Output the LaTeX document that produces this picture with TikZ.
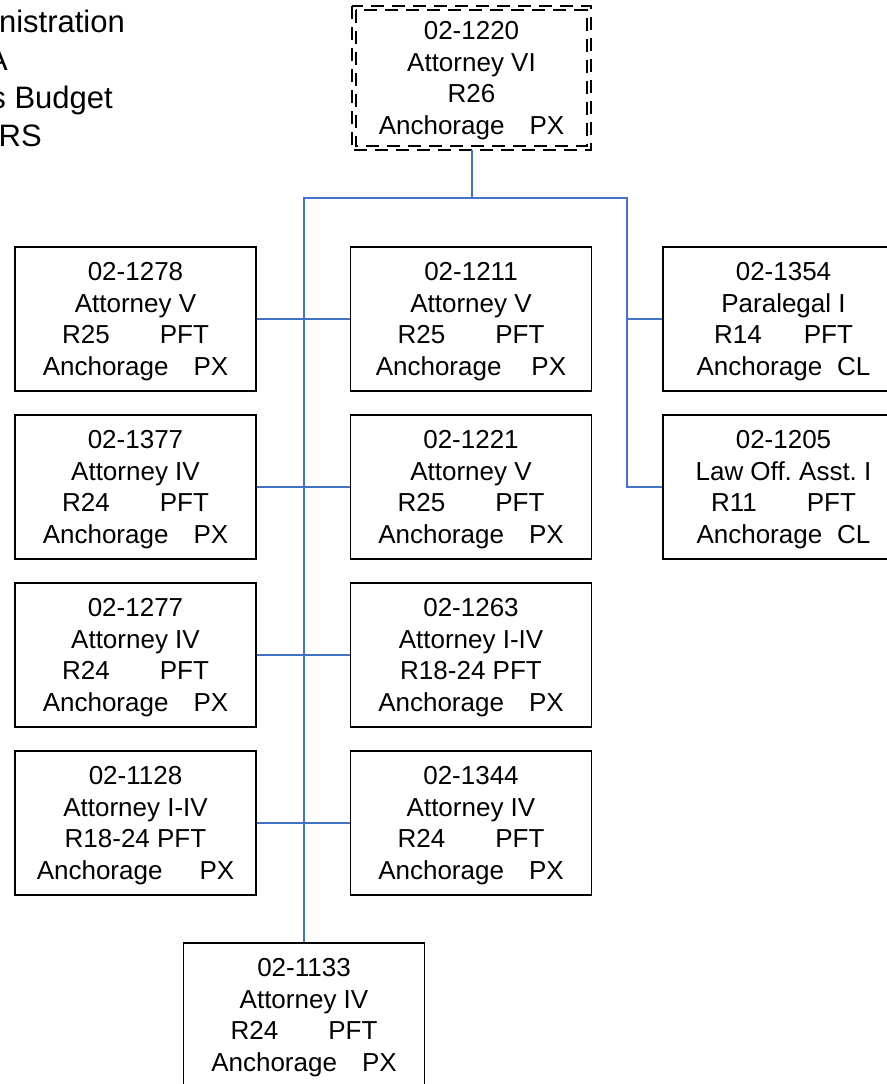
\documentclass[tikz,border=0pt]{standalone}
\usepackage{fontspec}
\setmainfont{Liberation Sans}
\frenchspacing
\definecolor{lineblue}{HTML}{4472C4}
\begin{document}
\begin{tikzpicture}[x=1pt,y=1pt,
  pbox/.style={draw=black, line width=1.8pt, minimum width=241pt, minimum height=144pt,
    align=center, inner sep=0pt, text depth=0pt, font=\fontsize{26}{31.7}\selectfont},
  topbox/.style={minimum width=231pt, minimum height=136pt,
    align=center, inner sep=0pt, text depth=0pt, font=\fontsize{26}{31.7}\selectfont},
  dashline/.style={draw=black, line width=1.5pt, dash pattern=on 13pt off 8pt},
  conn/.style={draw=lineblue, line width=2pt},
  hdr/.style={anchor=base east, inner sep=0pt, font=\fontsize{31}{38}\selectfont}]
\useasboundingbox (0,0) rectangle (886,-1084);

% header text (cut at the left edge)
\node[hdr] (h1) at (125,-32) {nistration};
\node[hdr] (h2) at (8,-70) {A};
\node[hdr] (h3) at (113,-108) {s Budget};
\node[hdr] (h4) at (42,-146) {RS};

% top box
\node[topbox] (top) at (471.5,-78) {02-1220\\Attorney VI\\R26\\Anchorage\hspace{25pt}PX};
\draw[dashline] (top.north west) rectangle (top.south east);
\draw[dashline] ([shift={(-4,4)}]top.north west) rectangle ([shift={(4,-4)}]top.south east);

% left column
\node[pbox] (l1278) at (135.5,-319) {02-1278\\Attorney V\\R25\hspace{50pt}PFT\\Anchorage\hspace{25pt}PX};
\node[pbox] (l1377) at (135.5,-487) {02-1377\\Attorney IV\\R24\hspace{50pt}PFT\\Anchorage\hspace{25pt}PX};
\node[pbox] (l1277) at (135.5,-655) {02-1277\\Attorney IV\\R24\hspace{50pt}PFT\\Anchorage\hspace{25pt}PX};
\node[pbox] (l1128) at (135.5,-823) {02-1128\\Attorney I-IV\\R18-24 PFT\\Anchorage\hspace{37pt}PX};

% middle column
\node[pbox] (m1211) at (471,-319) {02-1211\\Attorney V\\R25\hspace{50pt}PFT\\Anchorage\hspace{30pt}PX};
\node[pbox] (m1221) at (471,-487) {02-1221\\Attorney V\\R25\hspace{50pt}PFT\\Anchorage\hspace{25pt}PX};
\node[pbox] (m1263) at (471,-655) {02-1263\\Attorney I-IV\\R18-24 PFT\\Anchorage\hspace{25pt}PX};
\node[pbox] (m1344) at (471,-823) {02-1344\\Attorney IV\\R24\hspace{50pt}PFT\\Anchorage\hspace{25pt}PX};

% right column
\node[pbox] (r1354) at (783.5,-319) {02-1354\\Paralegal I\\R14\hspace{42pt}PFT\\Anchorage\hspace{15pt}CL};
\node[pbox] (r1205) at (783.5,-487) {02-1205\\Law Off. Asst. I\\R11\hspace{50pt}PFT\\Anchorage\hspace{15pt}CL};

% bottom
\node[pbox] (b1133) at (304,-1015) {02-1133\\Attorney IV\\R24\hspace{50pt}PFT\\Anchorage\hspace{25pt}PX};

% connectors
\coordinate (j) at (471.5,-198);
\coordinate (rt) at (627,-487);
\draw[conn] (top.south) ++(0,-4) -- (j);
\draw[conn] (j) -| (b1133.north);
\draw[conn] (j) -| (rt) -- (r1205.west);
\draw[conn] (r1354.west) -- (r1354.west -| rt);
\draw[conn] (l1278.east) -- (m1211.west);
\draw[conn] (l1377.east) -- (m1221.west);
\draw[conn] (l1277.east) -- (m1263.west);
\draw[conn] (l1128.east) -- (m1344.west);
\end{tikzpicture}
\end{document}
